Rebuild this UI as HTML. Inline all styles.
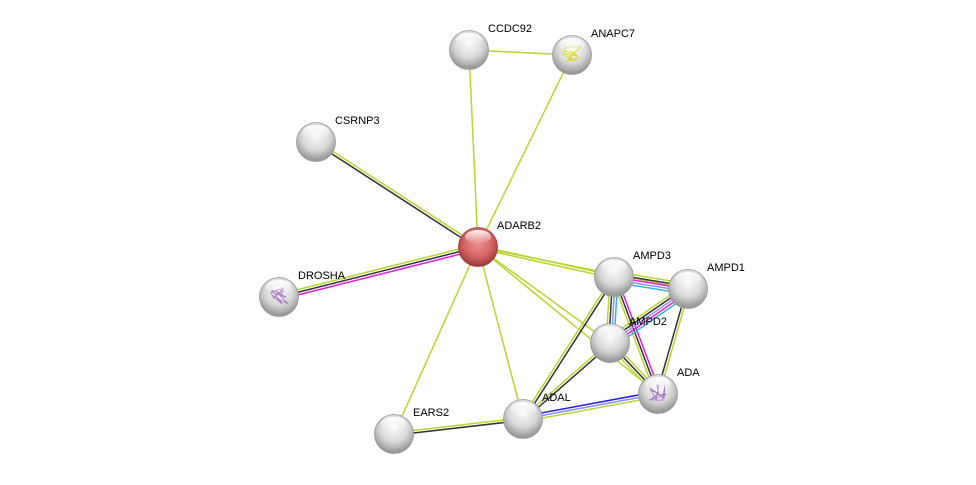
<!DOCTYPE html>
<html><head><meta charset="utf-8"><style>
body{margin:0;background:#fff;width:976px;height:480px;overflow:hidden}
svg text{font-family:"Liberation Sans",sans-serif;font-size:11px;fill:#000}
</style></head><body>
<svg id="s" width="976" height="480" xmlns="http://www.w3.org/2000/svg">
<defs>
<radialGradient id="g" cx="50%" cy="35%" r="60%"><stop offset="0" stop-color="#fafafa"/><stop offset="0.6" stop-color="#d8d8d8"/><stop offset="1" stop-color="#9a9a9a"/></radialGradient>
<radialGradient id="r" cx="50%" cy="40%" r="60%"><stop offset="0" stop-color="#f09090"/><stop offset="0.6" stop-color="#d46464"/><stop offset="1" stop-color="#983838"/></radialGradient>
<linearGradient id="h" x1="0" y1="0" x2="0" y2="1"><stop offset="0" stop-color="#fff" stop-opacity="0.95"/><stop offset="1" stop-color="#fff" stop-opacity="0"/></linearGradient>
</defs>
<g id="e"></g><g id="n"></g>
</svg>
<script>
var N={CCDC92:[469,50],ANAPC7:[572,55],CSRNP3:[316,142],ADARB2:[478,247],DROSHA:[279,297],AMPD3:[614,277],AMPD1:[688,289],AMPD2:[610,343],ADA:[658,394],ADAL:[523,419],EARS2:[394,434]};
var C={y:"#b8d630",k:"#333",m:"#e020e0",c:"#30b8d8",v:"#9090f0",b:"#2020f0"};
var E=[["CCDC92","ANAPC7","y"],["CCDC92","ADARB2","y"],["ANAPC7","ADARB2","y"],["CSRNP3","ADARB2","yk"],["DROSHA","ADARB2","ykm"],["ADARB2","EARS2","y"],["ADARB2","ADAL","y"],["ADARB2","AMPD3","yy"],["ADARB2","AMPD1","y"],["ADARB2","AMPD2","y"],["ADARB2","ADA","y"],["EARS2","ADAL","yk"],["ADAL","AMPD3","yk"],["ADAL","AMPD2","yk"],["ADAL","ADA","bvy"],["AMPD3","AMPD1","ykmvc"],["AMPD3","AMPD2","cvky"],["AMPD3","ADA","mky"],["AMPD1","AMPD2","cmvky"],["AMPD1","ADA","yk"],["AMPD2","ADA","yky"]];
var S={ANAPC7:"#d8d820",DROSHA:"#a070c0",ADA:"#a070c0"};
var ns="http://www.w3.org/2000/svg",eg=document.getElementById("e"),ng=document.getElementById("n");
E.forEach(function(e){var a=N[e[0]],b=N[e[1]],dx=b[0]-a[0],dy=b[1]-a[1],L=Math.hypot(dx,dy),px=-dy/L,py=dx/L,n=e[2].length;
for(var i=0;i<n;i++){var o=(i-(n-1)/2)*2.6,l=document.createElementNS(ns,"line");
l.setAttribute("x1",a[0]+px*o);l.setAttribute("y1",a[1]+py*o);l.setAttribute("x2",b[0]+px*o);l.setAttribute("y2",b[1]+py*o);
l.setAttribute("stroke",C[e[2][i]]);l.setAttribute("stroke-width","1.5");eg.appendChild(l);}});
for(var k in N){var p=N[k],c=document.createElementNS(ns,"circle");c.setAttribute("cx",p[0]);c.setAttribute("cy",p[1]);c.setAttribute("r",19.5);
c.setAttribute("fill",k=="ADARB2"?"url(#r)":"url(#g)");c.setAttribute("stroke",k=="ADARB2"?"#a04040":"#999");c.setAttribute("stroke-width","0.8");ng.appendChild(c);
if(S[k]){var d="M"+(p[0]-8)+" "+(p[1]-4);for(var j=0;j<14;j++){d+=" L"+(p[0]-9+Math.random()*18)+" "+(p[1]-10+Math.random()*18);}
var q=document.createElementNS(ns,"path");q.setAttribute("d",d);q.setAttribute("fill","none");q.setAttribute("stroke",S[k]);q.setAttribute("stroke-width","0.8");ng.appendChild(q);}
var h=document.createElementNS(ns,"ellipse");h.setAttribute("cx",p[0]);h.setAttribute("cy",p[1]-10);h.setAttribute("rx",13);h.setAttribute("ry",7);h.setAttribute("fill","url(#h)");ng.appendChild(h);
var t=document.createElementNS(ns,"text");t.setAttribute("x",p[0]+19);t.setAttribute("y",p[1]-18);t.textContent=k;ng.appendChild(t);}
</script>
</body></html>
